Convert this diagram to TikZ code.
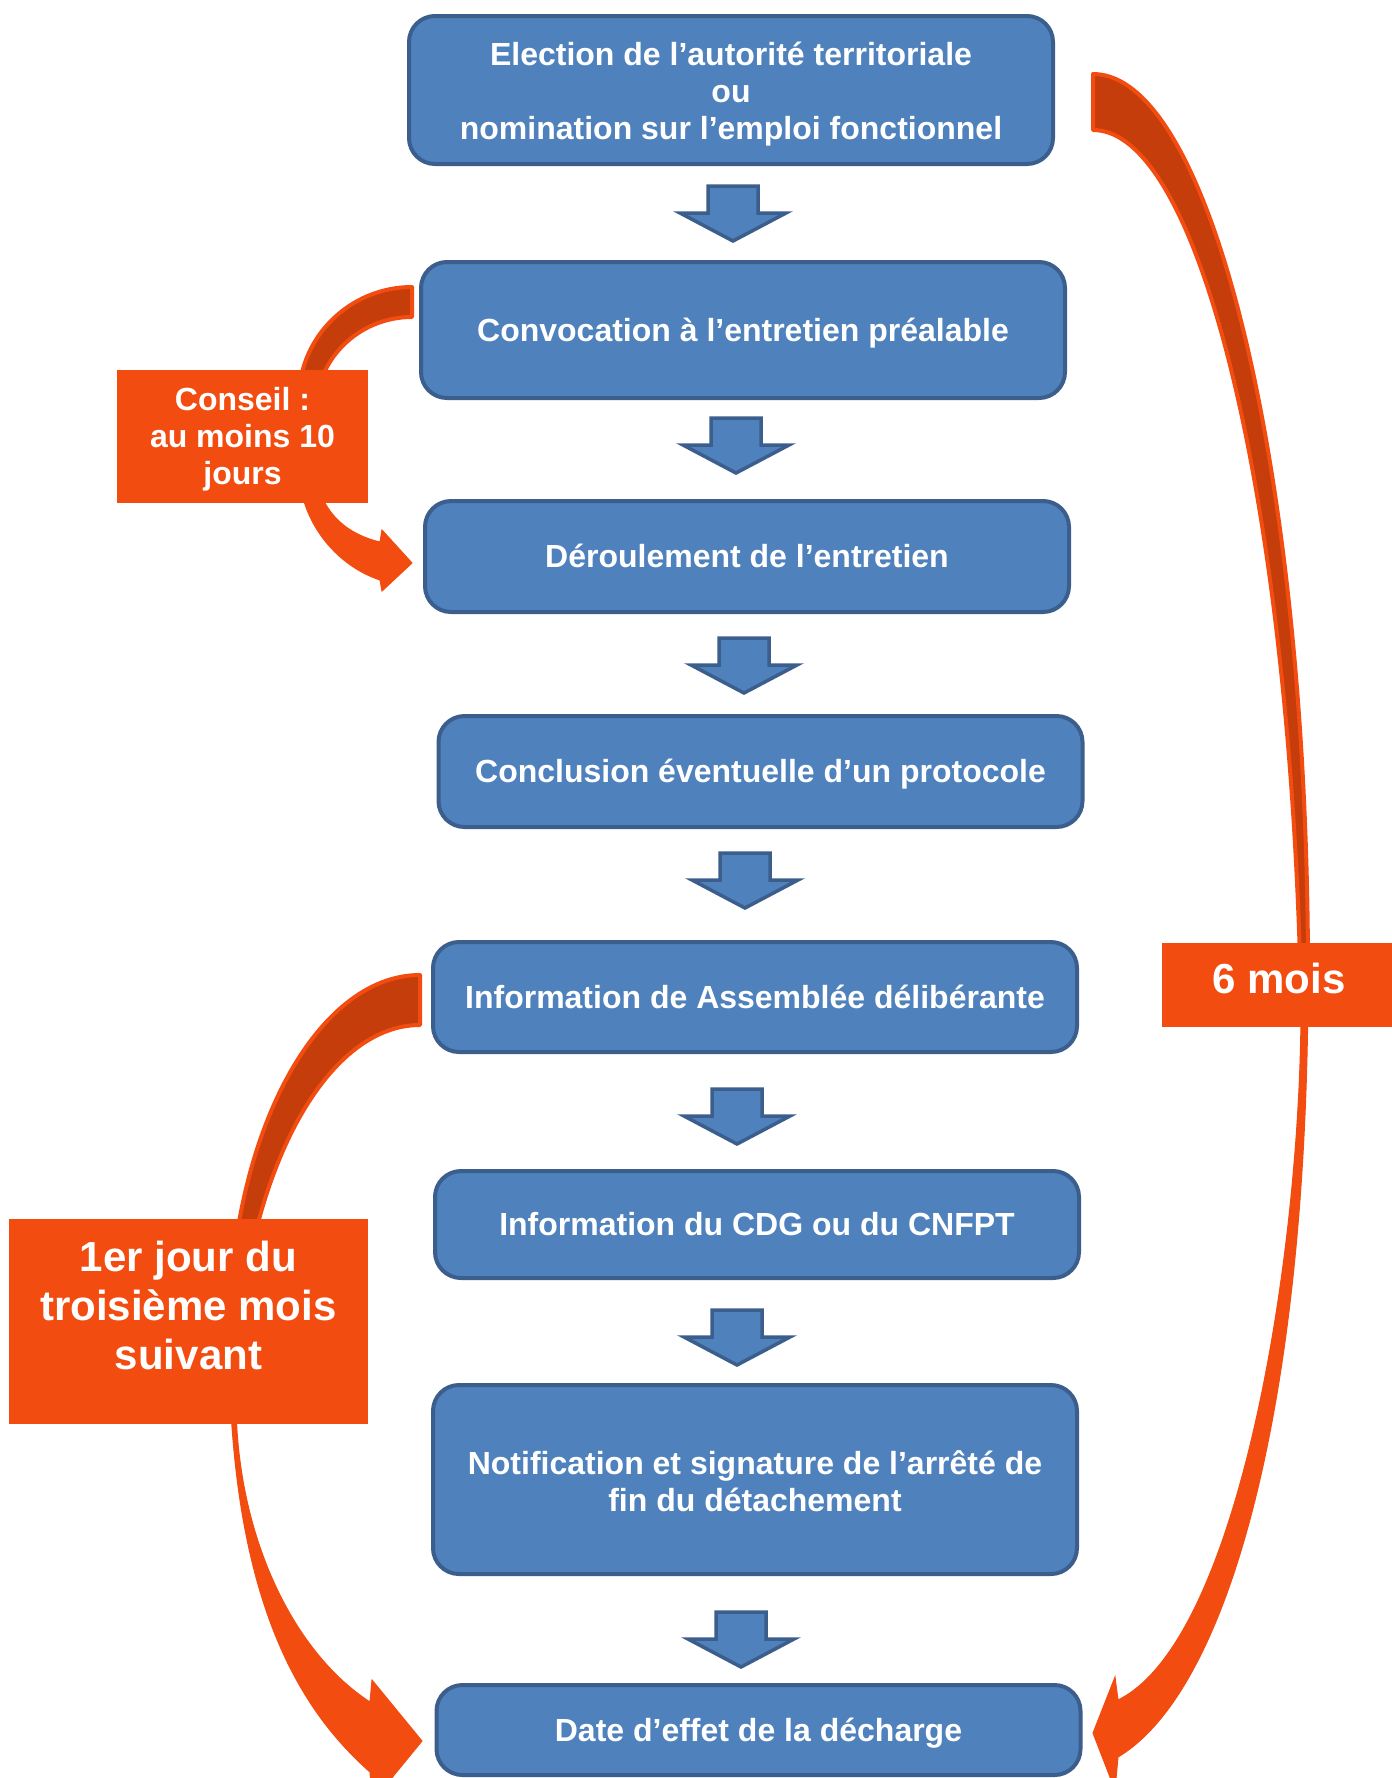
\documentclass[tikz,border=0pt]{standalone}
\usepackage{fontspec}
\setmainfont{Liberation Sans}
\definecolor{boxblue}{RGB}{79,129,189}
\definecolor{boxline}{RGB}{59,94,140}
\definecolor{tagorange}{RGB}{242,76,16}
\definecolor{tagdark}{RGB}{196,61,10}
\newcommand\pptstrut{\rule[-0.212em]{0pt}{1.117em}}

\begin{document}
\begin{tikzpicture}[x=1pt,y=-1pt,
	box/.style={draw=boxline, line width=4pt, fill=boxblue, rounded corners=26pt,
		text=white, font=\fontsize{32}{37}\selectfont\bfseries, align=center,
		minimum width=644pt, inner sep=0pt,
		execute at begin node=\pptstrut, execute at end node=\pptstrut},
	blockarrow/.style={draw=boxline, line width=3.5pt, fill=boxblue},
	tag/.style={fill=tagorange, text=white, align=center, inner sep=0pt,
		font=\fontsize{32}{37}\selectfont\bfseries},
	bigtag/.style={tag, font=\fontsize{42}{49}\selectfont\bfseries},
	curvefront/.style={fill=tagorange, draw=tagorange, line width=1pt},
	curveback/.style={fill=tagdark, draw=tagorange, line width=4pt, line join=round}]
			\useasboundingbox (0,0) rectangle (1392,1778);

			% 6 mois (right)
			\path[curvefront] (1093,74) .. controls (1212,74) and (1308,477) .. (1308,974)
				.. controls (1308,1400) and (1230,1690) .. (1118,1757)
				-- (1115,1790) -- (1093,1733) -- (1115,1677) -- (1118,1700)
				.. controls (1240,1640) and (1302,1250) .. (1301,1000)
				.. controls (1291,508) and (1201,130) .. (1093,130) -- cycle;
			\path[curveback] (1093,74) .. controls (1212,74) and (1308,477) .. (1308,974)
				-- (1301,1000) .. controls (1291,508) and (1201,130) .. (1093,130) -- cycle;

			% 1er jour (left)
			\path[curvefront] (420,975) .. controls (315,975) and (229,1138) .. (229,1338)
				.. controls (229,1600) and (300,1710) .. (370,1772)
				-- (372,1802) -- (422,1741) -- (372,1680) -- (370,1702)
				.. controls (290,1650) and (236,1530) .. (236,1400)
				.. controls (236,1196) and (318,1025) .. (420,1025) -- cycle;
			\path[curveback] (420,975) .. controls (315,975) and (229,1138) .. (229,1338)
				-- (236,1400) .. controls (236,1196) and (318,1025) .. (420,1025) -- cycle;

			% conseil
			\path[curvefront] (412,287) .. controls (350,287) and (299,337) .. (299,398)
				-- (299,468) .. controls (299,520) and (335,565) .. (380,580)
				-- (382,591) -- (412,563) -- (382,530) -- (380,542)
				.. controls (350,535) and (320,515) .. (315,470)
				-- (315,414) .. controls (315,360) and (358,317) .. (412,317) -- cycle;
			\path[curveback] (412,287) .. controls (350,287) and (299,337) .. (299,398)
				-- (315,414) .. controls (315,360) and (358,317) .. (412,317) -- cycle;

			\node[tag, minimum width=251pt, minimum height=133pt] (conseil) at (242.5,436.5) {\rule{0pt}{28pt}Conseil :\\au moins 10\\jours};
			\node[bigtag, minimum width=234pt, minimum height=84pt,
				execute at end node={\rule[-13pt]{0pt}{0pt}}] (mois) at (1279,985) {6 mois};
			\node[tag, minimum width=359pt, minimum height=205pt] (jour) at (188.5,1321.5) {};
			\node[bigtag, fill=none] (jourtexte) at (188.5,1305) {1er jour du\\troisième mois\\suivant};

			% etapes
			\node[box, minimum height=148pt] (election) at (731,90) {\rule{0pt}{32pt}Election de l’autorité territoriale\\ou\\nomination sur l’emploi fonctionnel};
			\node[box, minimum height=136pt] (convocation) at (743,330) {Convocation à l’entretien préalable};
			\node[box, minimum height=111pt] (deroulement) at (747,556.5) {Déroulement de l’entretien};
			\node[box, minimum height=111pt] (protocole) at (760.5,771.5) {Conclusion éventuelle d’un protocole};
			\node[box, minimum height=110pt] (assemblee) at (755,997) {Information de Assemblée délibérante};
			\node[box, minimum height=107pt] (cdg) at (757,1224.5) {Information du CDG ou du CNFPT};
			\node[box, minimum height=189pt, execute at end node={}] (arrete) at (755,1479.5) {\rule{0pt}{34pt}Notification et signature de l’arrêté de\\fin du détachement};
			\node[box, minimum height=90pt] (decharge) at (758.5,1730) {Date d’effet de la décharge};

			\foreach \x/\y in {733/214, 736/446, 744/666, 745/881, 737/1117, 737/1338, 741/1640}
			\draw[blockarrow] (\x-25,\y-28) -- (\x+25,\y-28) -- (\x+25,\y-1) -- (\x+53,\y-1)
				-- (\x,\y+27) -- (\x-53,\y-1) -- (\x-25,\y-1) -- cycle;
\end{tikzpicture}
\end{document}
